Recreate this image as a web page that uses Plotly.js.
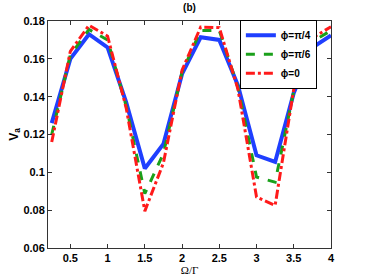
<!DOCTYPE html>
<html><head><meta charset="utf-8">
<script src="https://cdn.plot.ly/plotly-3.0.1.min.js"></script>
<style>html,body{margin:0;padding:0;background:#fff}#c{width:366px;height:280px}</style>
</head><body><div id="c"></div>
<script>
const omega = [0.25,0.5,0.75,1.0,1.25,1.5,1.75,2.0,2.25,2.5,2.75,3.0,3.25,3.5,3.75,4.0];
const vaPi4 = [0.126,0.160,0.173,0.166,0.137,0.102,0.115,0.152,0.1714,0.170,0.146,0.109,0.1055,0.142,0.166,0.1724];
const vaPi6 = [0.120,0.162,0.1755,0.170,0.135,0.0887,0.110,0.153,0.175,0.175,0.145,0.0975,0.0948,0.143,0.169,0.175];
const vaZero = [0.116,0.164,0.1777,0.172,0.134,0.0795,0.105,0.154,0.1768,0.1765,0.144,0.087,0.0825,0.144,0.171,0.177];
const names = ['\u03d5=\u03c0/4','\u03d5=\u03c0/6','\u03d5=0'];
const xTicks = [0.5,1,1.5,2,2.5,3,3.5,4];
const xTickText = ['0.5','1','1.5','2','2.5','3','3.5','4'];
const yTicks = [0.06,0.08,0.1,0.12,0.14,0.16,0.18];
const yTickText = ['0.06','0.08','0.1','0.12','0.14','0.16','0.18'];

const traces = [
  {x: omega, y: vaPi4, name: names[0], mode:'lines', line:{color:'#1f3fff', width:4, dash:'solid'}},
  {x: omega, y: vaPi6, name: names[1], mode:'lines', line:{color:'#1aa01a', width:3, dash:'dash'}},
  {x: omega, y: vaZero, name: names[2], mode:'lines', line:{color:'#ff1a1a', width:3, dash:'dashdot'}}
];
const axisCommon = {showgrid:false, zeroline:false, ticks:'inside', ticklen:4, mirror:'ticks',
  showline:true, linecolor:'#333', linewidth:1, tickcolor:'#333',
  tickfont:{family:'Arial, Liberation Sans, sans-serif', size:11, color:'#000', weight:'bold'}};
const layout = {
  width:366, height:280,
  margin:{l:48, r:35, t:21, b:32},
  paper_bgcolor:'#fff', plot_bgcolor:'#fff',
  showlegend:true,
  title:{text:'<b>(b)</b>', x:0.5, xref:'paper', xanchor:'center', y:0.972, yref:'container', yanchor:'middle',
    font:{family:'Arial, Liberation Sans, sans-serif', size:10, color:'#000'}},
  xaxis:Object.assign({}, axisCommon, {range:[0.2,4], tickvals:xTicks, ticktext:xTickText,
    title:{text:'\u03a9/\u0393', standoff:2, font:{family:'Times New Roman, Liberation Serif, serif', size:11, color:'#000'}}}),
  yaxis:Object.assign({}, axisCommon, {range:[0.06,0.18], tickvals:yTicks, ticktext:yTickText,
    title:{text:'<b>V<sub>a</sub></b>', standoff:2, font:{family:'Arial, Liberation Sans, sans-serif', size:12, color:'#000'}}}),
  legend:{x:0.678, xanchor:'left', y:1.005, yanchor:'top', bgcolor:'#fff', bordercolor:'#000', borderwidth:1,
    font:{family:'Arial, Liberation Sans, sans-serif', size:10, color:'#000', weight:'bold'},
    itemwidth:30, tracegroupgap:0}
};
Plotly.newPlot('c', traces, layout, {staticPlot:true, displayModeBar:false});
</script></body></html>
